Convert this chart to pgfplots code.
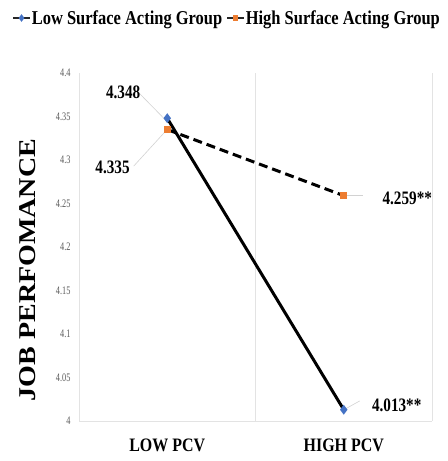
\documentclass[border=0pt]{standalone}
\usepackage{pgfplots}
\pgfplotsset{compat=1.18}
\usepackage{fontspec}
\setmainfont{Liberation Serif}
\newfontfamily\condfont{Liberation Serif}[FakeStretch=0.84]
\newfontfamily\labfont{Liberation Serif}[FakeStretch=0.80]
\newfontfamily\tickfont{Liberation Serif}[FakeStretch=0.72]
\definecolor{xlblue}{HTML}{4472C4}
\definecolor{xlorange}{HTML}{ED7D31}
\definecolor{gridgray}{HTML}{E3E3E3}
\definecolor{ticktxt}{HTML}{595959}
\begin{document}
\begin{tikzpicture}
\path[use as bounding box] (0,0) rectangle (448bp,461bp);
\begin{axis}[
  at={(79bp,40bp)}, anchor=south west,
  scale only axis, width=353bp, height=348bp,
  xmin=-0.5, xmax=1.5, ymin=4, ymax=4.4,
  xtick={0,1}, xticklabels={LOW PCV, HIGH PCV},
  ytick={4,4.05,4.1,4.15,4.2,4.25,4.3,4.35,4.4},
  yticklabels={4,4.05,4.1,4.15,4.2,4.25,4.3,4.35,4.4},
  major tick length=0pt,
  axis x line=bottom, axis y line=left,
  axis line style={gridgray, line width=0.8bp, -},
  xticklabel style={font=\condfont\bfseries\fontsize{19bp}{22bp}\selectfont, text=black, yshift=-14bp},
  yticklabel style={font=\tickfont\fontsize{11.5bp}{13bp}\selectfont, text=ticktxt, xshift=-5bp},
  extra x ticks={0.5,1.5}, extra x tick labels={},
  extra x tick style={grid=major, major grid style={gridgray, line width=0.8bp}},
  ylabel={\scalebox{1}[0.86]{\bfseries\fontsize{28bp}{32bp}\selectfont JOB PERFOMANCE}},
  ylabel style={at={(axis description cs:-0.1445,0.434)}, anchor=center, rotate=0},
  legend style={at={(axis description cs:0.418,1.158)}, anchor=center, draw=none, fill=none,
    font=\condfont\bfseries\fontsize{19.6bp}{22bp}\selectfont,
    /tikz/every even column/.append style={column sep=3bp},
    inner sep=0pt, nodes={inner sep=1bp}},
  legend columns=2,
  clip=false,
]
% legend images
\addlegendimage{black!85, line width=1.6bp, mark=diamond*, mark size=2.5bp, mark options={xlblue, solid}}
\addlegendentry{Low Surface Acting Group}
\addlegendimage{black!85, line width=1.6bp, mark=square*, mark size=2bp, mark options={xlorange, solid}}
\addlegendentry{High Surface Acting Group}
% leader lines
\draw[gray!35, line width=0.6bp] (axis cs:-0.16,4.377) -- (axis cs:-0.01,4.346);
\draw[gray!35, line width=0.6bp] (axis cs:-0.19,4.293) -- (axis cs:-0.01,4.333);
\draw[gray!35, line width=0.6bp] (axis cs:1.01,4.259) -- (axis cs:1.11,4.259);
\draw[gray!35, line width=0.6bp] (axis cs:1.01,4.014) -- (axis cs:1.09,4.023);
% series
\addplot[black, line width=3bp, mark=diamond*, mark size=2.5bp, mark options={xlblue, solid}, forget plot]
  coordinates {(0,4.348) (1,4.013)};
\addplot[black, line width=3bp, dash pattern=on 9bp off 5bp, mark=square*, mark size=2bp, mark options={xlorange, solid}, forget plot]
  coordinates {(0,4.335) (1,4.259)};
% data labels
\node[font=\labfont\bfseries\fontsize{19bp}{22bp}\selectfont] at (axis cs:-0.25,4.378) {4.348};
\node[font=\labfont\bfseries\fontsize{19bp}{22bp}\selectfont] at (axis cs:-0.31,4.291) {4.335};
\node[font=\labfont\bfseries\fontsize{19bp}{22bp}\selectfont] at (axis cs:1.36,4.256) {4.259**};
\node[font=\labfont\bfseries\fontsize{19bp}{22bp}\selectfont] at (axis cs:1.30,4.018) {4.013**};
\end{axis}
\end{tikzpicture}
\end{document}
